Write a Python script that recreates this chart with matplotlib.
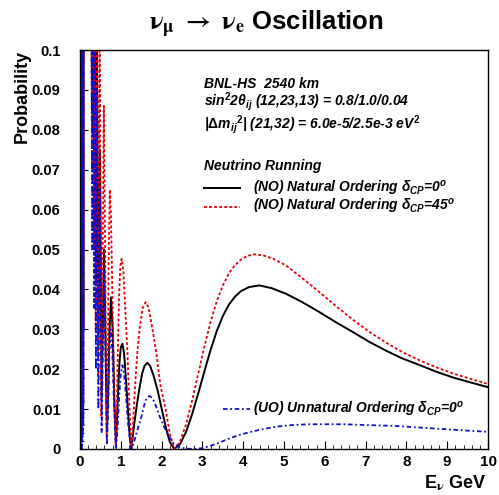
import matplotlib
matplotlib.use("Agg")
import matplotlib.pyplot as plt

plt.rcParams['font.family'] = ['Liberation Sans', 'DejaVu Sans']
plt.rcParams['font.weight'] = 'bold'
plt.rcParams['mathtext.fontset'] = 'custom'
plt.rcParams['mathtext.rm'] = 'Liberation Sans:bold'
plt.rcParams['mathtext.it'] = 'Liberation Sans:italic:bold'
plt.rcParams['mathtext.bf'] = 'Liberation Sans:bold'

# (NO) natural ordering, delta_CP = 0
e_no0 = [0.004, 0.010, 0.016, 0.022, 0.028, 0.034, 0.040, 0.046, 0.052, 0.058,
         0.064, 0.070, 0.076, 0.082, 0.088, 0.10, 0.20, 0.27,
         0.30, 0.32, 0.345, 0.365, 0.39, 0.415, 0.45, 0.49, 0.53, 0.59,
         0.66, 0.69, 0.72, 0.76, 0.80, 0.84, 0.88,
         0.91, 0.94, 0.97, 1.00, 1.04, 1.08, 1.13, 1.18, 1.22, 1.26,
         1.33, 1.40, 1.45, 1.52, 1.58, 1.65, 1.72, 1.80, 1.90, 2.00, 2.10, 2.20, 2.31,
         2.45, 2.60, 2.75, 2.90, 3.05, 3.20, 3.35, 3.50, 3.65, 3.80, 3.95, 4.15, 4.40,
         4.70, 5.05, 5.45, 5.87, 6.30, 6.69, 7.10, 7.51, 7.90, 8.33, 8.75, 9.15, 9.60, 10.0]
p_no0 = [0.15, 0.030, 0.15, 0.025, 0.15, 0.020, 0.15, 0.018, 0.15, 0.0165,
         0.15, 0.020, 0.15, 0.030, 0.15, 0.20, 0.25, 0.13,
         0.084, 0.13, 0.070, 0.12, 0.041, 0.105, 0.025, 0.075, 0.013, 0.050,
         0.0043, 0.014, 0.029, 0.038, 0.030, 0.013, 0.0013,
         0.008, 0.016, 0.022, 0.0255, 0.0264, 0.024, 0.017, 0.009, 0.003, 0.0,
         0.0064, 0.0115, 0.0148, 0.0188, 0.0208, 0.0216, 0.0208, 0.0185, 0.0148, 0.0102, 0.0056, 0.0018, 0.0,
         0.0012, 0.0043, 0.0088, 0.0140, 0.0195, 0.0248, 0.0295, 0.0333, 0.0362, 0.0382, 0.0396, 0.0406, 0.041,
         0.0403, 0.0389, 0.0368, 0.0343, 0.0316, 0.0293, 0.0268, 0.0246, 0.0227, 0.021, 0.0193, 0.0179, 0.0166, 0.0155]

# (NO) natural ordering, delta_CP = 45
e_no45 = [0.004, 0.010, 0.016, 0.022, 0.028, 0.034, 0.040, 0.046, 0.052, 0.058,
          0.064, 0.070, 0.076, 0.082, 0.088, 0.10, 0.20, 0.27,
          0.295, 0.315, 0.34, 0.36, 0.385, 0.41, 0.445, 0.48, 0.525, 0.585,
          0.655, 0.68, 0.70, 0.73, 0.76, 0.80, 0.84, 0.88,
          0.905, 0.93, 0.96, 0.99, 1.02, 1.06, 1.11, 1.16, 1.21, 1.26,
          1.30, 1.33, 1.37, 1.41, 1.47, 1.54, 1.61, 1.68, 1.76, 1.86, 1.97, 2.10, 2.20, 2.31,
          2.45, 2.60, 2.75, 2.90, 3.05, 3.20, 3.35, 3.50, 3.65, 3.80, 3.95, 4.10, 4.28,
          4.50, 4.75, 5.05, 5.45, 5.87, 6.30, 6.69, 7.10, 7.51, 7.90, 8.33, 8.75, 9.15, 9.60, 10.0]
p_no45 = [0.15, 0.010, 0.15, 0.006, 0.15, 0.004, 0.15, 0.003, 0.15, 0.005,
          0.15, 0.008, 0.15, 0.012, 0.15, 0.20, 0.25, 0.15,
          0.070, 0.14, 0.050, 0.13, 0.030, 0.12, 0.018, 0.11, 0.008, 0.086,
          0.003, 0.018, 0.045, 0.065, 0.058, 0.035, 0.012, 0.0003,
          0.012, 0.026, 0.039, 0.046, 0.0477, 0.045, 0.035, 0.0248, 0.011, 0.0,
          0.006, 0.0123, 0.019, 0.0248, 0.031, 0.0355, 0.0368, 0.0355, 0.031, 0.0248, 0.016, 0.0098, 0.004, 0.0,
          0.0018, 0.0062, 0.0122, 0.0190, 0.0257, 0.0318, 0.0370, 0.0410, 0.0440, 0.0461, 0.0475, 0.0484, 0.0488,
          0.0485, 0.0476, 0.046, 0.0428, 0.0393, 0.0356, 0.0324, 0.0293, 0.0266, 0.0243, 0.0222, 0.0204, 0.0189, 0.0175, 0.0163]

# (UO) unnatural ordering, delta_CP = 0
e_uo = [0.004, 0.010, 0.016, 0.022, 0.028, 0.034, 0.040, 0.046, 0.052, 0.058,
        0.064, 0.070, 0.076, 0.082, 0.088, 0.10, 0.20, 0.27,
        0.30, 0.32, 0.345, 0.365, 0.39, 0.42, 0.45, 0.49, 0.53, 0.59,
        0.66, 0.69, 0.72, 0.75, 0.79, 0.83, 0.88,
        0.92, 0.96, 1.00, 1.04, 1.08, 1.13, 1.19, 1.26,
        1.34, 1.42, 1.49, 1.56, 1.63, 1.70, 1.78, 1.86, 1.94, 2.05, 2.19, 2.31,
        2.45, 2.60, 2.80, 3.00, 3.20, 3.42, 3.65, 3.90, 4.15, 4.40, 4.80, 5.20,
        5.60, 6.00, 6.50, 7.00, 7.70, 8.30, 8.90, 9.50, 10.0]
p_uo = [0.15, 0.002, 0.15, 0.0, 0.15, 0.001, 0.15, 0.0, 0.15, 0.002,
        0.15, 0.004, 0.15, 0.006, 0.15, 0.20, 0.25, 0.14,
        0.050, 0.13, 0.035, 0.12, 0.020, 0.09, 0.010, 0.065, 0.004, 0.045,
        0.001, 0.010, 0.024, 0.030, 0.025, 0.012, 0.0,
        0.005, 0.013, 0.019, 0.021, 0.019, 0.013, 0.005, 0.0,
        0.0023, 0.0052, 0.0075, 0.0105, 0.0127, 0.0133, 0.0127, 0.0108, 0.0085, 0.0058, 0.003, 0.0012,
        0.0004, 0.0001, 0.0, 0.0002, 0.0008, 0.0016, 0.0026, 0.0035, 0.0042, 0.0048, 0.0056, 0.006,
        0.0062, 0.0062, 0.0062, 0.006, 0.0058, 0.0054, 0.005, 0.0046, 0.0043]

x_ticks = [0, 1, 2, 3, 4, 5, 6, 7, 8, 9, 10]
y_ticks = [0, 0.01, 0.02, 0.03, 0.04, 0.05, 0.06, 0.07, 0.08, 0.09, 0.1]
y_tick_labels = ['0', '0.01', '0.02', '0.03', '0.04', '0.05', '0.06', '0.07', '0.08', '0.09', '0.1']

RED = '#e8000b'
BLUE = '#1010c8'
RED_LS = (0, (1.6, 1.2))
BLUE_LS = (0, (2.5, 1.5, 1, 1.5))

fig = plt.figure(figsize=(4.99, 4.95), dpi=100)
ax = fig.add_axes([80/499, 1 - 449/495, 408/499, 399/495])

ax.plot(e_no0, p_no0, color='black', lw=1.4, solid_joinstyle='round')
ax.plot(e_no45, p_no45, color=RED, lw=1.3, linestyle=RED_LS)
ax.plot(e_uo, p_uo, color=BLUE, lw=1.3, linestyle=BLUE_LS)

ax.set_xlim(0, 10)
ax.set_ylim(0, 0.1)
ax.set_xticks(x_ticks)
ax.set_xticklabels([str(t) for t in x_ticks])
ax.set_yticks(y_ticks)
ax.set_yticklabels(y_tick_labels)
ax.set_xticks([i * 0.2 for i in range(51)], minor=True)
ax.set_yticks([i * 0.002 for i in range(51)], minor=True)
ax.tick_params(which='both', direction='in', top=False, right=False)
ax.tick_params(which='major', length=6, width=0.8)
ax.tick_params(which='minor', length=3, width=0.6)
ax.tick_params(axis='x', labelsize=11, pad=4)
ax.tick_params(axis='y', labelsize=10.5, pad=14)
for lab in ax.get_xticklabels() + ax.get_yticklabels():
    lab.set_fontweight('bold')
for s in ax.spines.values():
    s.set_linewidth(1.0)

# title and axis titles
fig.text(0.533, 0.950, r"$\mathrm{\nu_{\mu}\ \rightarrow\ \nu_{e}}$ Oscillation",
         ha='center', va='center', fontsize=18.5, fontweight='bold', math_fontfamily='stix')
fig.text(0.044, 1 - 50/495, 'Probability', rotation=90, ha='center', va='top',
         fontsize=13, fontweight='bold')
fig.text(487/499, 1 - 483/495, r"E$_{\mathrm{\nu}}$ GeV", ha='right', va='center',
         fontsize=13, fontweight='bold', math_fontfamily='stix')

# annotations
tkw = dict(transform=ax.transAxes, fontsize=10, fontweight='bold', style='italic',
           va='center', ha='left')
ax.text(0.304, 0.916, 'BNL-HS  2540 km', **tkw)
ax.text(0.304, 0.870, r"sin$^{2}$2$\theta_{ij}$ (12,23,13) = 0.8/1.0/0.04", **tkw)
ax.text(0.304, 0.814, r"|$\Delta$m$_{ij}$$^{2}$| (21,32) = 6.0e-5/2.5e-3 eV$^{2}$", **tkw)
ax.text(0.304, 0.709, 'Neutrino Running', **tkw)
ax.text(0.424, 0.654, r"(NO) Natural Ordering $\delta_{CP}$=0$^{o}$", **tkw)
ax.text(0.424, 0.607, r"(NO) Natural Ordering $\delta_{CP}$=45$^{o}$", **tkw)
ax.text(0.424, 0.100, r"(UO) Unnatural Ordering $\delta_{CP}$=0$^{o}$", **tkw)

ax.plot([0.304, 0.392], [0.654, 0.654], transform=ax.transAxes, color='black', lw=1.4)
ax.plot([0.304, 0.392], [0.607, 0.607], transform=ax.transAxes, color=RED, lw=1.3,
        linestyle=RED_LS)
ax.plot([0.350, 0.417], [0.100, 0.100], transform=ax.transAxes, color=BLUE, lw=1.3,
        linestyle=BLUE_LS)

fig.savefig('out.png', dpi=100)
